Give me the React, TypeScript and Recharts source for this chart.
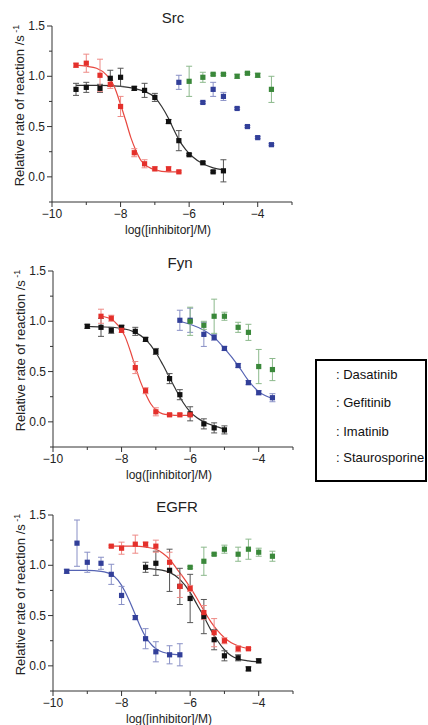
import React from 'react';
import { ComposedChart, XAxis, YAxis, Scatter, Line, ErrorBar, Label } from 'recharts';

// ---------- axes / labels ----------
const xTicks = [-10, -9, -8, -7, -6, -5, -4, -3];
const xMajor = [-10, -8, -6, -4];
const yTicks = [-0.25, 0, 0.25, 0.5, 0.75, 1, 1.25, 1.5];
const yMajor = [0, 0.5, 1, 1.5];
const panelTitles = ['Src', 'Fyn', 'EGFR'];
const legendLabels = ['Dasatinib', 'Gefitinib', 'Imatinib', 'Staurosporine'];
const xLabel = 'log([inhibitor]/M)';
const yLabel = 'Relative rate of reaction /s';

// ---------- Src ----------
const srcDasX = [-9.3, -9, -8.6, -8.3, -8, -7.6, -7.3, -7, -6.6, -6.3];
const srcDasY = [1.11, 1.13, 1.01, 0.92, 0.70, 0.24, 0.13, 0.08, 0.08, 0.05];
const srcDasE = [0.02, 0.09, 0.16, 0.04, 0.10, 0.04, 0.04, 0.02, 0.02, 0.01];
const srcDasCurveX = [-9.3, -9.0, -8.7, -8.4, -8.2, -8.0, -7.85, -7.7, -7.55, -7.4, -7.2, -7.0, -6.6, -6.3];
const srcDasCurveY = [1.11, 1.10, 1.08, 1.01, 0.91, 0.72, 0.56, 0.39, 0.26, 0.16, 0.10, 0.07, 0.05, 0.05];

const srcStaX = [-9.3, -9, -8.6, -8.3, -8, -7.6, -7.3, -7, -6.6, -6.3, -6, -5.6, -5.3, -5];
const srcStaY = [0.87, 0.89, 0.88, 0.98, 0.99, 0.88, 0.86, 0.79, 0.55, 0.36, 0.22, 0.14, 0.05, 0.06];
const srcStaE = [0.06, 0.05, 0.04, 0.08, 0.09, 0.02, 0.07, 0.04, 0.02, 0.10, 0.01, 0.01, 0.01, 0.11];
const srcStaCurveX = [-9.3, -8.6, -8.0, -7.6, -7.3, -7.0, -6.8, -6.6, -6.45, -6.3, -6.1, -5.9, -5.6, -5.3, -5.0];
const srcStaCurveY = [0.91, 0.91, 0.90, 0.88, 0.85, 0.79, 0.70, 0.58, 0.47, 0.37, 0.27, 0.20, 0.13, 0.09, 0.07];

const srcGefX = [-6.3, -5.6, -5.3, -5, -4.6, -4.3, -4, -3.6];
const srcGefY = [0.94, 0.74, 0.87, 0.80, 0.68, 0.50, 0.39, 0.32];
const srcGefE = [0.07, 0.01, 0.07, 0.04, 0.01, 0.01, 0.01, 0.01];

const srcImaX = [-6, -5.6, -5.3, -5, -4.6, -4.3, -4, -3.6];
const srcImaY = [0.95, 0.99, 1.02, 1.02, 1.00, 1.03, 1.01, 0.87];
const srcImaE = [0.15, 0.05, 0.01, 0.01, 0.02, 0.01, 0.02, 0.13];

// ---------- Fyn ----------
const fynDasX = [-8.6, -8.3, -8, -7.6, -7.3, -7, -6.6, -6.3, -6];
const fynDasY = [1.05, 1.03, 0.91, 0.54, 0.31, 0.10, 0.07, 0.07, 0.07];
const fynDasE = [0.07, 0.03, 0.02, 0.06, 0.03, 0.04, 0.01, 0.01, 0.01];
const fynDasCurveX = [-8.6, -8.3, -8.1, -7.9, -7.75, -7.6, -7.45, -7.3, -7.15, -7.0, -6.8, -6.6, -6.3, -6.0];
const fynDasCurveY = [1.05, 1.02, 0.96, 0.85, 0.71, 0.55, 0.40, 0.28, 0.18, 0.12, 0.08, 0.07, 0.065, 0.065];

const fynStaX = [-9, -8.6, -8.3, -8, -7.6, -7.3, -7, -6.6, -6.3, -6, -5.6, -5.3, -5];
const fynStaY = [0.95, 0.94, 0.91, 0.94, 0.90, 0.82, 0.70, 0.43, 0.27, 0.08, -0.02, -0.06, -0.08];
const fynStaE = [0.02, 0.09, 0.03, 0.02, 0.04, 0.02, 0.03, 0.05, 0.05, 0.07, 0.05, 0.05, 0.04];
const fynStaCurveX = [-9.0, -8.6, -8.0, -7.6, -7.3, -7.0, -6.8, -6.6, -6.4, -6.2, -6.0, -5.8, -5.6, -5.3, -5.0];
const fynStaCurveY = [0.95, 0.945, 0.93, 0.89, 0.82, 0.69, 0.57, 0.44, 0.31, 0.19, 0.10, 0.04, 0.0, -0.04, -0.07];

const fynGefX = [-6.3, -6, -5.6, -5.3, -5, -4.6, -4.3, -4, -3.6];
const fynGefY = [1.01, 1.01, 0.87, 0.84, 0.73, 0.56, 0.39, 0.29, 0.24];
const fynGefE = [0.10, 0.12, 0.12, 0.03, 0.02, 0.02, 0.02, 0.02, 0.04];
const fynGefCurveX = [-6.3, -6.0, -5.6, -5.3, -5.0, -4.6, -4.3, -4.0, -3.8, -3.6];
const fynGefCurveY = [1.00, 0.97, 0.91, 0.84, 0.73, 0.56, 0.41, 0.30, 0.26, 0.235];

const fynImaX = [-6, -5.6, -5.3, -5, -4.6, -4.3, -4, -3.6];
const fynImaY = [1.00, 0.96, 1.05, 1.05, 0.94, 0.89, 0.55, 0.52];
const fynImaE = [0.14, 0.04, 0.17, 0.04, 0.05, 0.08, 0.17, 0.11];

// ---------- EGFR ----------
const egfrGefX = [-9.6, -9.3, -9, -8.6, -8.3, -8, -7.6, -7.3, -7, -6.6, -6.3];
const egfrGefY = [0.94, 1.22, 1.03, 1.02, 0.91, 0.70, 0.48, 0.27, 0.14, 0.11, 0.11];
const egfrGefE = [0.02, 0.23, 0.10, 0.06, 0.10, 0.09, 0.02, 0.10, 0.10, 0.09, 0.11];
const egfrGefCurveX = [-9.6, -9.0, -8.6, -8.3, -8.1, -7.9, -7.75, -7.6, -7.45, -7.3, -7.1, -6.9, -6.6, -6.3];
const egfrGefCurveY = [0.95, 0.95, 0.94, 0.91, 0.85, 0.74, 0.63, 0.51, 0.39, 0.29, 0.20, 0.15, 0.12, 0.11];

const egfrDasX = [-8.3, -8, -7.6, -7.3, -7, -6.6, -6.3, -6, -5.6, -5.3, -5, -4.6, -4.3];
const egfrDasY = [1.19, 1.17, 1.21, 1.21, 1.19, 1.03, 0.79, 0.77, 0.53, 0.33, 0.25, 0.17, 0.17];
const egfrDasE = [0.01, 0.06, 0.09, 0.02, 0.06, 0.10, 0.11, 0.03, 0.07, 0.14, 0.03, 0.03, 0.01];
const egfrDasCurveX = [-8.3, -7.6, -7.3, -7.0, -6.8, -6.6, -6.4, -6.2, -6.0, -5.8, -5.6, -5.4, -5.2, -5.0, -4.8, -4.6, -4.3];
const egfrDasCurveY = [1.19, 1.19, 1.18, 1.16, 1.12, 1.06, 0.97, 0.88, 0.78, 0.67, 0.55, 0.44, 0.35, 0.28, 0.23, 0.20, 0.17];

const egfrStaX = [-7.3, -7, -6.6, -6.3, -6, -5.6, -5.3, -5, -4.6, -4.3, -4];
const egfrStaY = [0.98, 1.02, 0.95, 0.79, 0.67, 0.49, 0.26, 0.10, 0.08, -0.03, 0.05];
const egfrStaE = [0.05, 0.12, 0.21, 0.18, 0.24, 0.17, 0.10, 0.05, 0.03, 0.02, 0.02];
const egfrStaCurveX = [-7.3, -7.0, -6.6, -6.3, -6.0, -5.8, -5.6, -5.4, -5.2, -5.0, -4.8, -4.6, -4.3, -4.0];
const egfrStaCurveY = [0.97, 0.96, 0.93, 0.86, 0.73, 0.61, 0.49, 0.36, 0.25, 0.16, 0.10, 0.07, 0.05, 0.04];

const egfrImaX = [-6, -5.6, -5.3, -5, -4.6, -4.3, -4, -3.6];
const egfrImaY = [0.98, 1.04, 1.11, 1.16, 1.11, 1.16, 1.13, 1.09];
const egfrImaE = [0.01, 0.14, 0.01, 0.04, 0.07, 0.10, 0.04, 0.05];

// ---------- styles ----------
const POINT: Record<string, string> = { das: '#e4302b', gef: '#323f99', ima: '#3a883a', sta: '#111111' };
const ERRC: Record<string, string> = { das: '#ee8a86', gef: '#8990c6', ima: '#8cb98c', sta: '#555555' };
const CURVE: Record<string, string> = { das: '#e8473f', gef: '#5563b3', ima: '#3a883a', sta: '#333333' };
const AXIS = '#333333';

type Pt = { x: number; y: number; e: number };
const zip = (xs: number[], ys: number[], es?: number[]): Pt[] =>
  xs.map((x, i) => ({ x, y: ys[i], e: es ? es[i] : 0 }));

type Series = { id: string; pts: Pt[]; curve?: Pt[] };

const panels: { title: string; top: number; left: number; titleX: number; series: Series[] }[] = [
  {
    title: panelTitles[0], top: 0, left: 0, titleX: 173,
    series: [
      { id: 'sta', pts: zip(srcStaX, srcStaY, srcStaE), curve: zip(srcStaCurveX, srcStaCurveY) },
      { id: 'das', pts: zip(srcDasX, srcDasY, srcDasE), curve: zip(srcDasCurveX, srcDasCurveY) },
      { id: 'gef', pts: zip(srcGefX, srcGefY, srcGefE) },
      { id: 'ima', pts: zip(srcImaX, srcImaY, srcImaE) },
    ],
  },
  {
    title: panelTitles[1], top: 245, left: 1, titleX: 180,
    series: [
      { id: 'sta', pts: zip(fynStaX, fynStaY, fynStaE), curve: zip(fynStaCurveX, fynStaCurveY) },
      { id: 'das', pts: zip(fynDasX, fynDasY, fynDasE), curve: zip(fynDasCurveX, fynDasCurveY) },
      { id: 'gef', pts: zip(fynGefX, fynGefY, fynGefE), curve: zip(fynGefCurveX, fynGefCurveY) },
      { id: 'ima', pts: zip(fynImaX, fynImaY, fynImaE) },
    ],
  },
  {
    title: panelTitles[2], top: 489, left: 1, titleX: 177,
    series: [
      { id: 'gef', pts: zip(egfrGefX, egfrGefY, egfrGefE), curve: zip(egfrGefCurveX, egfrGefCurveY) },
      { id: 'ima', pts: zip(egfrImaX, egfrImaY, egfrImaE) },
      { id: 'sta', pts: zip(egfrStaX, egfrStaY, egfrStaE), curve: zip(egfrStaCurveX, egfrStaCurveY) },
      { id: 'das', pts: zip(egfrDasX, egfrDasY, egfrDasE), curve: zip(egfrDasCurveX, egfrDasCurveY) },
    ],
  },
];

const fmtX = (v: number) => (v < 0 ? '\u2212' + Math.abs(v) : String(v));

const XTick = (p: any) => {
  const { x, y, payload } = p;
  const major = xMajor.includes(payload.value);
  return (
    <g>
      <line x1={x} x2={x} y1={y} y2={y + (major ? 5 : 3)} stroke={AXIS} strokeWidth={1} />
      {major && (
        <text x={x} y={y + 16} textAnchor="middle" fontSize={12} fill="#222">
          {fmtX(payload.value)}
        </text>
      )}
    </g>
  );
};

const YTick = (p: any) => {
  const { x, y, payload } = p;
  const major = yMajor.includes(payload.value);
  return (
    <g>
      <line x1={x} x2={x - (major ? 5 : 3)} y1={y} y2={y} stroke={AXIS} strokeWidth={1} />
      {major && (
        <text x={x - 7} y={y + 4} textAnchor="end" fontSize={12} fill="#222">
          {payload.value.toFixed(1)}
        </text>
      )}
    </g>
  );
};

const XLabelContent = (p: any) => {
  const vb = p.viewBox || {};
  return (
    <text x={vb.x + vb.width / 2 - 4} y={vb.y + 32} textAnchor="middle" fontSize={12} fill="#222">
      {xLabel}
    </text>
  );
};

const YLabelContent = (p: any) => {
  const vb = p.viewBox || {};
  const cx = vb.x + 24;
  const cy = vb.y + vb.height / 2 - 8.5;
  return (
    <text x={cx} y={cy} transform={`rotate(-90 ${cx} ${cy})`} textAnchor="middle" fontSize={13} fill="#222">
      {yLabel}
      <tspan dy={-5} fontSize={9}>{' -1'}</tspan>
    </text>
  );
};

const Square = (color: string) => (props: any) => {
  const { cx, cy } = props;
  if (cx == null || cy == null) return <g />;
  return <rect x={cx - 2.6} y={cy - 2.6} width={5.2} height={5.2} fill={color} />;
};

function Panel({ title, top, left, titleX, series }: { title: string; top: number; left: number; titleX: number; series: Series[] }) {
  return (
    <div style={{ position: 'absolute', top, left, width: 300, height: 238 }}>
      <div
        style={{
          position: 'absolute', top: 9, left: titleX - left - 40, width: 80, textAlign: 'center',
          fontSize: 15, lineHeight: '18px', color: '#222',
        }}
      >
        {title}
      </div>
      <ComposedChart width={300} height={238} margin={{ top: 26, right: 8, bottom: 0, left: 0 }}>
        <XAxis
          type="number" dataKey="x" domain={[-10, -3]} ticks={xTicks} interval={0}
          tick={(p: any) => <XTick {...p} />} tickSize={0} tickMargin={0} tickLine={false}
          axisLine={{ stroke: AXIS }} height={36} allowDataOverflow
        >
          <Label content={XLabelContent} />
        </XAxis>
        <YAxis
          type="number" dataKey="y" domain={[-0.25, 1.5]} ticks={yTicks} interval={0}
          tick={(p: any) => <YTick {...p} />} tickSize={0} tickMargin={0} tickLine={false}
          axisLine={{ stroke: AXIS }} width={52} allowDataOverflow
        >
          <Label content={YLabelContent} />
        </YAxis>
        {series.filter((s) => s.curve).map((s) => (
          <Line
            key={'c-' + s.id} data={s.curve} dataKey="y" type="monotone" stroke={CURVE[s.id]}
            strokeWidth={1.2} dot={false} activeDot={false} isAnimationActive={false}
          />
        ))}
        {series.map((s) => (
          <Scatter key={'s-' + s.id} data={s.pts} dataKey="y" shape={Square(POINT[s.id])} isAnimationActive={false}>
            <ErrorBar dataKey="e" direction="y" width={3} stroke={ERRC[s.id]} strokeWidth={1} />
          </Scatter>
        ))}
      </ComposedChart>
    </div>
  );
}

export default function App() {
  return (
    <div
      style={{
        position: 'absolute', left: 0, top: 0, width: 428, height: 725, overflow: 'hidden',
        background: '#fff', fontFamily: '"Liberation Sans", Arial, sans-serif',
      }}
    >
      {panels.map((p) => (
        <Panel key={p.title} {...p} />
      ))}
      <div
        style={{
          position: 'absolute', left: 315, top: 359, width: 108, height: 119,
          border: '2px solid #000', background: '#fff',
        }}
      >
        {legendLabels.map((l, i) => (
          <div
            key={l}
            style={{
              position: 'absolute', left: 19, top: [14, 42, 71, 97][i] - 8, fontSize: 13,
              lineHeight: '16px', color: '#111', whiteSpace: 'nowrap',
            }}
          >
            {': ' + l}
          </div>
        ))}
      </div>
    </div>
  );
}
